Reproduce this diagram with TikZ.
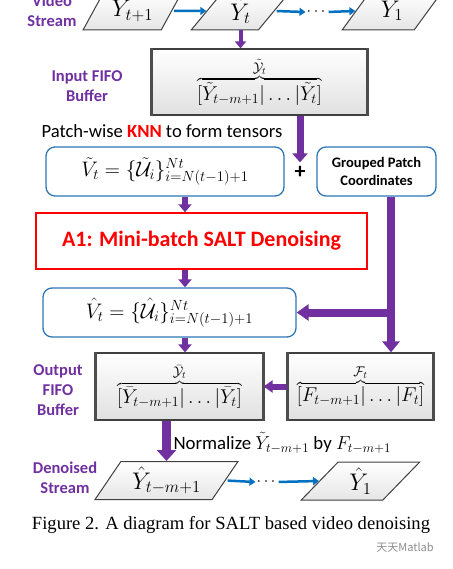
\documentclass[tikz,border=0pt]{standalone}
\usepackage{fix-cm}
\usepackage{fontspec}
\setmainfont{Carlito}
\newfontfamily\capfont{Liberation Serif}
\newfontfamily\cjk{Noto Sans CJK SC}
\usetikzlibrary{arrows.meta,shapes.geometric}
\definecolor{vpurple}{RGB}{112,48,160}
\definecolor{vblue}{RGB}{0,112,192}
\definecolor{boxblue}{RGB}{46,117,182}
\tikzset{
  frame/.style={trapezium, trapezium left angle=55, trapezium right angle=125,
    trapezium stretches=true, draw=black!75, line width=1pt, top color=white,
    bottom color=black!10, minimum height=38pt, inner sep=0pt,
    font=\fontsize{24}{24}\selectfont},
  fifo/.style={rectangle, draw=black!75, line width=1.2pt, top color=white,
    bottom color=black!12, minimum height=67pt, inner sep=0pt,
    font=\fontsize{20}{20}\selectfont},
  tensor/.style={rectangle, rounded corners=9pt, draw=boxblue, line width=1.3pt,
    fill=white, minimum height=49pt, inner sep=0pt,
    font=\fontsize{21}{21}\selectfont},
  tag/.style={text=vpurple, font=\fontsize{16.5}{20}\selectfont\bfseries, align=center},
  flow/.style={draw=vblue, line width=2.5pt, shorten <=2pt, -{Triangle[length=6pt,width=8pt]}},
}
\begin{document}
\begin{tikzpicture}[x=1pt,y=-1pt]
  \useasboundingbox (0,0) rectangle (452,569);
  % input stream
  \node[tag] (vid) at (52,11) {Video\\Stream};
  \node[frame, minimum width=99pt] (y1) at (132.5,11) {$Y_{t+1}$};
  \node[frame, minimum width=99pt] (y2) at (240.5,11) {$\tilde{Y}_t$};
  \node[inner sep=1pt, font=\fontsize{16}{16}\selectfont] (dt1) at (316,12) {$\cdots$};
  \node[frame, minimum width=100pt] (y3) at (392,11) {$Y_1$};
  \draw[flow] (y1.east) -- (y2.west);
  \draw[flow] (y2.east) -- (dt1.west);
  \draw[flow] (dt1.east) -- (y3.west);

  \node[fifo, minimum width=215pt, minimum height=66pt] (inbuf) at (259.5,82)
    {$\displaystyle\overbrace{[\tilde{Y}_{t-m+1}|\ldots|\tilde{Y}_t]}^{\tilde{\mathcal{Y}}_t}$};
  \node[tag] (inlab) at (87,86) {Input FIFO\\Buffer};
  \node[anchor=west, font=\fontsize{18.6}{18.6}\selectfont] (knn) at (38,131)
    {Patch-wise \textcolor{red}{\bfseries KNN} to form tensors};

  \node[tensor, minimum width=238pt] (vtil) at (165,171.5)
    {$\tilde{V}_t=\{\tilde{\mathcal{U}}_i\}_{i=N(t-1)+1}^{Nt}$};
  \node[font=\fontsize{22}{22}\selectfont\bfseries] (plus) at (300,172) {+};
  \node[tensor, minimum width=119pt, align=center,
    font=\fontsize{14.5}{18}\selectfont\bfseries] (grp) at (376.5,171.5)
    {Grouped Patch\\Coordinates};
  \node[draw=red, line width=1.5pt, minimum width=331pt, minimum height=56pt,
    text=red, font=\fontsize{22}{22}\selectfont\bfseries] (a1) at (201.5,241)
    {A1: Mini-batch SALT Denoising};
  \node[tensor, minimum width=253pt] (vhat) at (169.5,312.5)
    {$\hat{V}_t=\{\hat{\mathcal{U}}_i\}_{i=N(t-1)+1}^{Nt}$};

  \node[fifo, minimum width=167pt] (outbuf) at (179.5,386.5)
    {$\displaystyle\overbrace{[\bar{Y}_{t-m+1}|\ldots|\bar{Y}_t]}^{\bar{\mathcal{Y}}_t}$};
  \node[fifo, minimum width=145pt] (fbuf) at (360.5,386.5)
    {$\displaystyle\overbrace{[F_{t-m+1}|\ldots|F_t]}^{\mathcal{F}_t}$};
  \node[tag] (outlab) at (58,390) {Output\\FIFO\\Buffer};
  \foreach \b in {inbuf,outbuf,fbuf}
    \draw[black!70, line width=2.5pt] (\b.north west) -- (\b.south west)
      (\b.north east) -- (\b.south east);

  % output stream
  \node[anchor=west, font=\fontsize{18.8}{18.8}\selectfont] (norm) at (170,443)
    {Normalize $\tilde{Y}_{t-m+1}$ by $F_{t-m+1}$};
  \node[tag] (dnlab) at (65,478) {Denoised\\Stream};
  \node[frame, minimum width=143pt] (yh1) at (166.5,480.5) {$\hat{Y}_{t-m+1}$};
  \node[inner sep=1pt, font=\fontsize{16}{16}\selectfont] (dt2) at (266,482) {$\cdots$};
  \node[frame, minimum width=119pt] (yh2) at (360.5,481) {$\hat{Y}_1$};
  \draw[flow] (yh1.east) -- (dt2.west);
  \draw[flow] (dt2.east) -- (yh2.west);

  \coordinate (mid) at (185,0);
  \coordinate (side) at (391,0);
  \draw[vpurple, line width=4pt, -{Triangle[length=7pt,width=11pt]}]
    (y2.south) -- (y2.south |- inbuf.north);
  \draw[vpurple, line width=7pt, -{Triangle[length=9pt,width=15pt]}]
    (inbuf.south -| plus) -- (plus.north);
  \draw[vpurple, line width=6pt, -{Triangle[length=8pt,width=13pt]}]
    (vtil.south -| mid) -- (a1.north -| mid);
  \draw[vpurple, line width=6pt, -{Triangle[length=8pt,width=13pt]}]
    (a1.south -| mid) -- (vhat.north -| mid);
  \draw[vpurple, line width=6pt, -{Triangle[length=8pt,width=13pt]}]
    (vhat.south -| mid) -- (outbuf.north -| mid);
  \draw[vpurple, line width=8pt, -{Triangle[length=11pt,width=17pt]}]
    (grp.south -| side) -- (fbuf.north -| side);
  \draw[vpurple, line width=8pt, -{Triangle[length=12pt,width=16pt]}]
    (vhat.east -| side) -- (vhat.east);
  \draw[vpurple, line width=6pt, -{Triangle[length=9pt,width=12pt]}]
    (fbuf.west) -- (outbuf.east);
  \draw[vpurple, line width=9pt, -{Triangle[length=11pt,width=19pt]}]
    (outbuf.south -| yh1.north) -- (yh1.north);

  \node[font=\capfont\fontsize{18.6}{18.6}\selectfont] (cap) at (231,525)
    {Figure 2. A diagram for SALT based video denoising};
  \node[text=black!45, font=\cjk\fontsize{11}{11}\selectfont] (wm) at (405,548) {天天Matlab};
\end{tikzpicture}
\end{document}
